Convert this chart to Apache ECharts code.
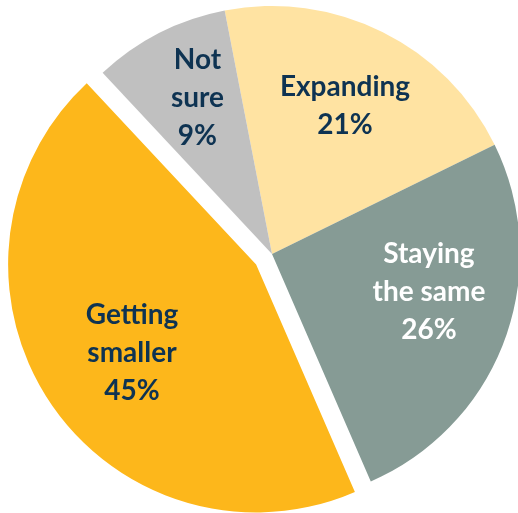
<!DOCTYPE html>
<html>
<head>
<meta charset="utf-8">
<script src="https://cdn.jsdelivr.net/npm/echarts@6/dist/echarts.min.js"></script>
<style>
  html, body { margin: 0; padding: 0; background: #ffffff; }
  #chart { width: 518px; height: 513px; }
</style>
</head>
<body>
<div id="chart"></div>
<script>
// Outlook answers, shares in percent
const categories = ['Expanding', 'Staying\nthe same', 'Getting\nsmaller', 'Not\nsure'];
const shares = [21, 26, 45, 9];
const sliceColors = ['#FFE3A2', '#869B95', '#FDB71B', '#C0C0C0'];
const labelColors = ['#0E3352', '#FFFFFF', '#0E3352', '#0E3352'];
// small nudges of each label away from the ring midpoint
const labelNudges = [[0, -1], [3, -19], [13, -1], [0, -10]];
const pulledOut = 'Getting\nsmaller';

const center = [272, 254];
const startAngle = 101;

function buildData(withLabels) {
  return categories.map((name, i) => {
    const item = {
      name: name,
      value: shares[i],
      selected: name === pulledOut,
      itemStyle: withLabels
        ? { color: 'rgba(0,0,0,0)' }
        : { color: sliceColors[i] }
    };
    if (withLabels) {
      const lbl = { color: labelColors[i], offset: labelNudges[i] };
      item.label = lbl;
      item.select = { label: lbl };
    }
    return item;
  });
}

const common = {
  type: 'pie',
  center: center,
  startAngle: startAngle,
  clockwise: true,
  selectedMode: 'single',
  selectedOffset: 19,
  animation: false,
  silent: true,
  emphasis: { disabled: true },
  labelLine: { show: false }
};

const chart = echarts.init(document.getElementById('chart'), null, { renderer: 'canvas' });
chart.setOption({
  backgroundColor: '#ffffff',
  series: [
    Object.assign({}, common, {
      name: 'slices',
      radius: [0, 248],
      itemStyle: { borderWidth: 0 },
      label: { show: false },
      data: buildData(false)
    }),
    // transparent ring used only to place the labels further out
    Object.assign({}, common, {
      name: 'labels',
      radius: [74, 248],
      itemStyle: { borderWidth: 0 },
      label: {
        show: true,
        position: 'inside',
        formatter: '{b}\n{c}%',
        fontFamily: 'Lato',
        fontWeight: 'bold',
        fontSize: 28,
        lineHeight: 38,
        align: 'center'
      },
      data: buildData(true)
    })
  ]
});
</script>
</body>
</html>
